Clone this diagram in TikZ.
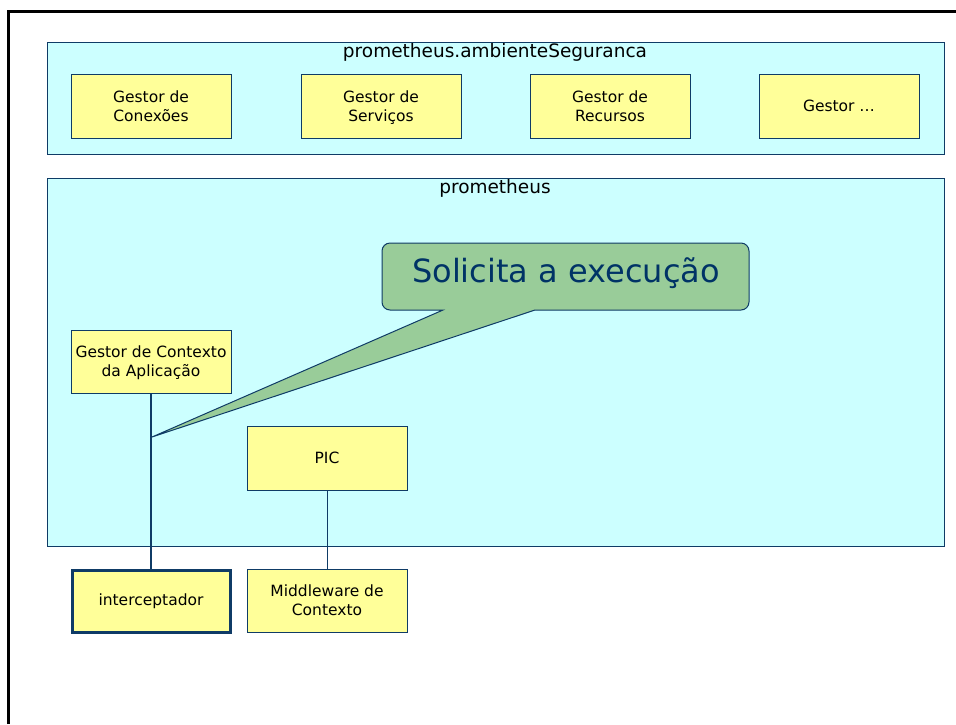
\documentclass[tikz,border=0pt]{standalone}
\usepackage{fontspec}
\setmainfont{DejaVu Sans}
\newcommand{\toppad}{\rule{0pt}{17pt}}
\begin{document}
\begin{tikzpicture}[x=1pt,y=-1pt,
  cyanbox/.style={draw=bordc,fill=cyanc,line width=1pt},
  ybox/.style={draw=bordc,fill=yelc,line width=1pt,minimum width=160pt,minimum height=64pt,align=center,font=\fontsize{15.5}{19}\selectfont,inner sep=0pt},
  conn/.style={draw=bordc,line width=1.2pt}]
\definecolor{cyanc}{HTML}{CCFFFF}
\definecolor{yelc}{HTML}{FFFF99}
\definecolor{bordc}{HTML}{0F3B66}
\definecolor{greenc}{HTML}{99CC99}
\definecolor{txtc}{HTML}{003366}
\useasboundingbox (0,0) rectangle (956,724);
\fill[white] (0,0) rectangle (956,724);
\draw[line width=3pt] (8,724) -- (8,11) -- (956,11);
% top container
\draw[cyanbox] (47,42) rectangle (944,154);
\node[font=\fontsize{18.5}{22}\selectfont] (lab1) at (495,52) {prometheus.ambienteSeguranca};
\node[ybox] (gc) at (151,106) {\toppad Gestor de\\Conexões\strut};
\node[ybox] (gs) at (381,106) {\toppad Gestor de\\Serviços\strut};
\node[ybox] (gr) at (610,106) {\toppad Gestor de\\Recursos\strut};
\node[ybox] (gg) at (839,106) {Gestor …};
% main container
\draw[cyanbox] (47,178) rectangle (944,546);
\node[font=\fontsize{18.5}{22}\selectfont] (lab2) at (495,188) {prometheus};
\node[ybox,minimum height=63pt] (gca) at (151,361.5) {\toppad Gestor de Contexto\\da Aplicação\strut};
\node[ybox] (pic) at (327,458) {PIC};
\node[ybox,line width=3pt,minimum width=158pt,minimum height=62pt] (int) at (151,601.5) {interceptador};
\node[ybox,minimum height=63pt] (mw) at (327,600.5) {\toppad Middleware de\\Contexto\strut};
\draw[conn] (gca.south) -- (int.north);
\draw[conn,line width=1pt] (pic.south) -- (mw.north);
% callout
\coordinate (tip) at (152,437);
\draw[draw=bordc,fill=greenc,line width=1pt,rounded corners=8pt]
  (443,310) [sharp corners]-- (tip) -- (535,310) [rounded corners=8pt]-- (749,310) -- (749,243) -- (382,243) -- (382,310) [sharp corners]-- cycle;
\node[text=txtc,font=\fontsize{32}{38}\selectfont] (call) at (566,273) {Solicita a execução};
\end{tikzpicture}
\end{document}
